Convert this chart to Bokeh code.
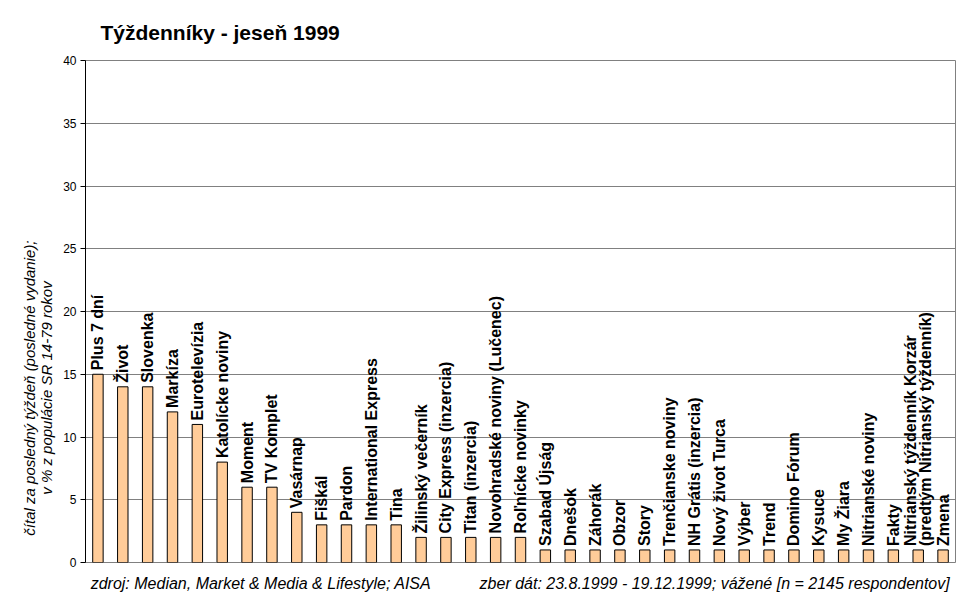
from math import pi
from bokeh.plotting import figure
from bokeh.models import (ColumnDataSource, FactorRange, Range1d, SingleIntervalTicker,
                          LinearAxis, FixedTicker)
from bokeh.core.properties import value
from bokeh.embed import file_html
from bokeh.resources import INLINE

# ---- data ----
title_text = "Týždenníky - jeseň 1999"
categories = [
    "Plus 7 dní", "Život", "Slovenka", "Markíza", "Eurotelevízia", "Katolícke noviny",
    "Moment", "TV Komplet", "Vasárnap", "Fiškál", "Pardon", "International Express",
    "Tina", "Žilinský večerník", "City Express (inzercia)", "Titan (inzercia)",
    "Novohradské noviny (Lučenec)", "Roľnícke novinky", "Szabad Újság", "Dnešok",
    "Záhorák", "Obzor", "Story", "Trenčianske noviny", "NH Grátis (inzercia)",
    "Nový život Turca", "Výber", "Trend", "Domino Fórum", "Kysuce", "My Žiara",
    "Nitrianské noviny", "Fakty",
    "Nitrianský týždenník Korzár (predtým Nitrianský týždenník)", "Zmena",
]
bar_labels = [c if not c.startswith("Nitrianský týždenník") else
              "Nitrianský týždenník Korzár\n(predtým Nitrianský týždenník)" for c in categories]
values = [15, 14, 14, 12, 11, 8, 6, 6, 4, 3, 3, 3, 3, 2, 2, 2, 2, 2,
          1, 1, 1, 1, 1, 1, 1, 1, 1, 1, 1, 1, 1, 1, 1, 1, 1]
y_ticks_interval = 5
y_max = 40
y_label_lines = ["čítal za posledný týždeň (posledné vydanie);",
                 "v % z populácie SR 14-79 rokov"]
footer_left = "zdroj: Median, Market & Media & Lifestyle; AISA"
footer_right = "zber dát: 23.8.1999 - 19.12.1999; vážené [n = 2145 respondentov]"

source = ColumnDataSource(dict(cat=categories, val=values, label=bar_labels))

p = figure(
    width=971, height=605,
    x_range=FactorRange(*categories, range_padding=0),
    y_range=Range1d(0, y_max),
    output_backend="svg", toolbar_location=None,
    min_border_left=85, min_border_right=16, min_border_top=60, min_border_bottom=43,
    background_fill_color="white", border_fill_color="white",
)
p.outline_line_color = "#808080"
p.outline_line_width = 1

# title
p.title.text = title_text
p.title.align = "left"
p.title.offset = 15
p.title.text_font = "Liberation Sans"
p.title.text_font_style = "bold"
p.title.text_font_size = "21px"
p.title.text_color = "black"
p.title.standoff = 34

# bars
p.vbar(x="cat", top="val", width=0.42, source=source,
       fill_color="#FFCC99", line_color="black", line_width=1)

# rotated bar labels
p.text(x="cat", y="val", text="label", source=source, angle=pi / 2,
       text_align="left", text_baseline="middle", y_offset=-4,
       text_font=value("Liberation Sans"), text_font_style="bold",
       text_font_size="16px", text_color="black", text_line_height=0.88)

# x axis: no ticks/labels, carries the footer line as its axis label
p.xgrid.grid_line_color = None
p.xaxis.ticker = []
p.xaxis.axis_line_color = None
p.xaxis.major_tick_line_color = None
p.xaxis.minor_tick_line_color = None
p.xaxis.major_tick_out = 0
p.xaxis.major_tick_in = 0
p.xaxis.major_label_standoff = 0
p.xaxis.axis_label = footer_left + "\u00a0" * 11 + footer_right
p.xaxis.axis_label_standoff = 12
p.xaxis.axis_label_text_font = "Liberation Sans"
p.xaxis.axis_label_text_font_style = "italic"
p.xaxis.axis_label_text_font_size = "16px"
p.xaxis.axis_label_text_color = "black"

# y axis
p.ygrid.grid_line_color = "#808080"
p.ygrid.grid_line_width = 1
p.yaxis.ticker = SingleIntervalTicker(interval=y_ticks_interval, num_minor_ticks=0)
p.yaxis.axis_line_color = "black"
p.yaxis.major_tick_line_color = "black"
p.yaxis.major_tick_in = 0
p.yaxis.major_tick_out = 5
p.yaxis.minor_tick_line_color = None
p.yaxis.major_label_standoff = 4
p.yaxis.major_label_text_font = "Liberation Sans"
p.yaxis.major_label_text_font_size = "12px"
p.yaxis.major_label_text_color = "black"

# y axis title: two rotated lines placed as single-tick label axes
y_label_pos = 13.9
for line, standoff in ((y_label_lines[1], 5), (y_label_lines[0], -3)):
    ax = LinearAxis(ticker=FixedTicker(ticks=[y_label_pos]),
                    major_label_overrides={y_label_pos: line},
                    major_label_orientation="vertical",
                    axis_line_color=None, major_tick_line_color=None,
                    minor_tick_line_color=None, major_tick_out=0, major_tick_in=0,
                    major_label_standoff=standoff,
                    major_label_text_font="Liberation Sans",
                    major_label_text_font_style="italic",
                    major_label_text_font_size="15px",
                    major_label_text_color="black")
    p.add_layout(ax, "left")

open("out.html", "w").write(file_html(p, INLINE))
